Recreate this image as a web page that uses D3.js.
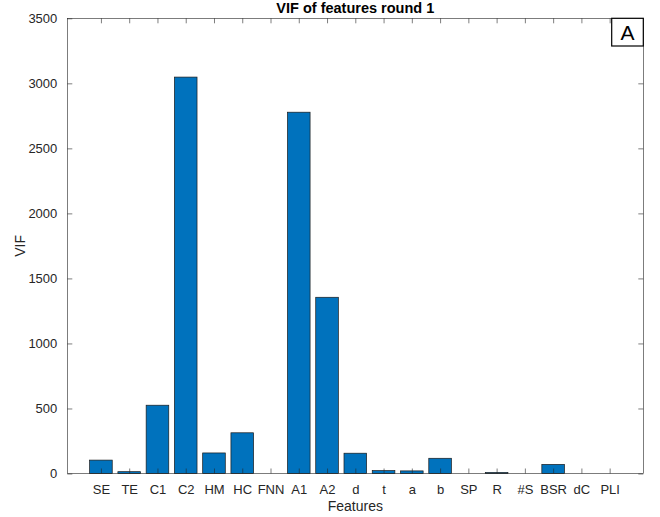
<!DOCTYPE html>
<html>
<head>
<meta charset="utf-8">
<script src="https://cdn.jsdelivr.net/npm/d3@7"></script>
<style>
  html, body { margin: 0; padding: 0; background: #fff; }
  svg { display: block; font-family: "Liberation Sans", Arial, Helvetica, sans-serif; }
</style>
</head>
<body>
<svg id="chart" width="660" height="517"></svg>
<script>
// Feature names and their variance inflation factors (round 1)
const features = ["SE", "TE", "C1", "C2", "HM", "HC", "FNN", "A1", "A2", "d", "t", "a", "b", "SP", "R", "#S", "BSR", "dC", "PLI"];
const vifValues = [103, 14, 525, 3048, 158, 313, 0, 2778, 1355, 156, 22, 20, 117, 0, 8, 0, 70, 0, 0];
const yTicks = [0, 500, 1000, 1500, 2000, 2500, 3000, 3500];

const svg = d3.select("#chart");
const margin = { left: 67.3, right: 660 - 643.3, top: 18.3, bottom: 517 - 473.5 };
const W = 660, H = 517;
const x0 = margin.left, x1 = W - margin.right, y0 = H - margin.bottom, y1 = margin.top;

const axisColor = "#262626";
const barColor = "#0072BD";

// Positions 1..n on a linear scale, with a little room at both ends
const x = d3.scaleLinear().domain([-0.19, features.length + 1.19]).range([x0, x1]);
const y = d3.scaleLinear().domain([0, 3500]).range([y0, y1]);
const step = x(2) - x(1);
const barW = step * 0.8;

// Bars
svg.append("g").selectAll("rect")
  .data(vifValues)
  .join("rect")
  .attr("x", (d, i) => x(i + 1) - barW / 2)
  .attr("y", d => y(d))
  .attr("width", barW)
  .attr("height", d => y0 - y(d))
  .attr("fill", barColor)
  .attr("stroke", "#1a1a1a")
  .attr("stroke-width", 0.7);

// Bottom axis with inward ticks
const xAxis = d3.axisBottom(x)
  .tickValues(d3.range(1, features.length + 1))
  .tickFormat(i => features[i - 1])
  .tickSizeInner(-5).tickSizeOuter(0).tickPadding(11);
const gx = svg.append("g").attr("transform", `translate(0,${y0})`).call(xAxis);

// Left axis with inward ticks
const yAxis = d3.axisLeft(y).tickValues(yTicks).tickFormat(d3.format("d"))
  .tickSizeInner(-5).tickSizeOuter(0).tickPadding(10);
const gy = svg.append("g").attr("transform", `translate(${x0},0)`).call(yAxis);

// Mirrored ticks on the top and right edges
const gxt = svg.append("g").attr("transform", `translate(0,${y1})`)
  .call(d3.axisTop(x).tickValues(d3.range(1, features.length + 1)).tickFormat("").tickSizeInner(-5).tickSizeOuter(0));
const gyr = svg.append("g").attr("transform", `translate(${x1},0)`)
  .call(d3.axisRight(y).tickValues(yTicks).tickFormat("").tickSizeInner(-5).tickSizeOuter(0));

[gx, gy, gxt, gyr].forEach(g => {
  g.select(".domain").remove();
  g.selectAll(".tick line").attr("stroke", axisColor).attr("stroke-width", 0.6);
  g.selectAll(".tick text").attr("fill", axisColor).attr("font-size", 13);
});
gx.selectAll(".tick text").attr("dy", "0.71em");

// Axes box
svg.append("rect")
  .attr("x", x0).attr("y", y1)
  .attr("width", x1 - x0).attr("height", y0 - y1)
  .attr("fill", "none").attr("stroke", axisColor).attr("stroke-width", 0.6);

// Title and axis labels
svg.append("text")
  .attr("x", (x0 + x1) / 2).attr("y", 13)
  .attr("text-anchor", "middle")
  .attr("font-size", 14.5).attr("font-weight", "bold").attr("fill", "#000")
  .text("VIF of features round 1");

svg.append("text")
  .attr("x", (x0 + x1) / 2).attr("y", 511)
  .attr("text-anchor", "middle")
  .attr("font-size", 14).attr("fill", axisColor)
  .text("Features");

svg.append("text")
  .attr("transform", `translate(25,${(y0 + y1) / 2}) rotate(-90)`)
  .attr("text-anchor", "middle")
  .attr("font-size", 14).attr("fill", axisColor)
  .text("VIF");

// Panel letter
const boxX = 611.7, boxY = y1, boxW = x1 - boxX, boxH = 46 - y1;
svg.append("rect")
  .attr("x", boxX).attr("y", boxY).attr("width", boxW).attr("height", boxH)
  .attr("fill", "#fff").attr("stroke", "#000").attr("stroke-width", 1.2);
svg.append("text")
  .attr("x", boxX + boxW / 2).attr("y", boxY + boxH / 2 + 7.5)
  .attr("text-anchor", "middle")
  .attr("font-size", 21).attr("fill", "#000")
  .text("A");
</script>
</body>
</html>
